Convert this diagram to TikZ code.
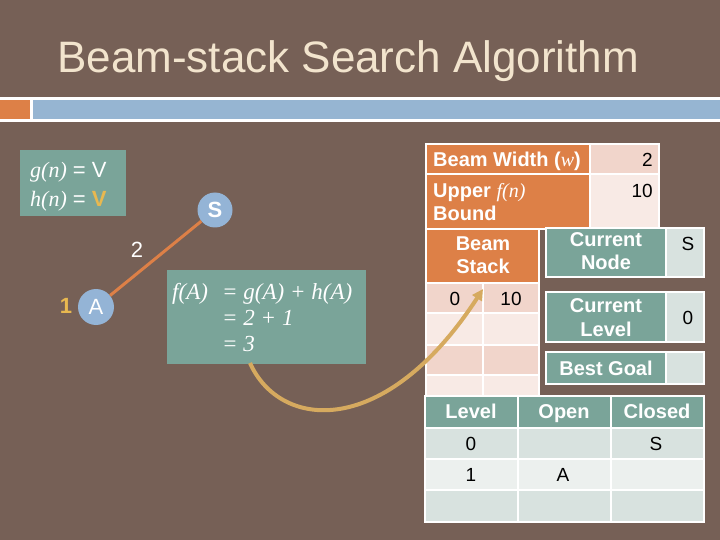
\documentclass[tikz,border=0pt]{standalone}
\usepackage{fontspec}
\setmainfont{Liberation Sans}
\newfontfamily\serifit{Liberation Serif}
\usetikzlibrary{arrows.meta}
\definecolor{bg}{RGB}{118,96,86}
\definecolor{titlec}{RGB}{242,228,205}
\definecolor{tealc}{RGB}{122,164,153}
\definecolor{orangec}{RGB}{221,128,71}
\definecolor{barblue}{RGB}{150,181,210}
\definecolor{cblue}{RGB}{148,180,214}
\definecolor{goldc}{RGB}{232,184,80}
\definecolor{tanc}{RGB}{214,170,95}
\definecolor{pinkc}{RGB}{241,213,203}
\definecolor{lpinkc}{RGB}{248,234,229}
\definecolor{greyc}{RGB}{216,226,223}
\definecolor{lgreyc}{RGB}{236,240,238}
\newcommand{\twoc}[2]{\vtop{\halign{\hfil##\hfil\cr#1\cr#2\cr}}}
\newcommand{\twol}[2]{\vtop{\halign{##\hfil\cr#1\cr#2\cr}}}
\begin{document}
\begin{tikzpicture}[x=1pt,y=-1pt,
  cell/.style={draw=white,line width=2pt},
  lbl/.style={inner sep=0pt,text=white,font=\fontsize{20}{24}\selectfont\bfseries},
  val/.style={inner sep=0pt,text=black,font=\fontsize{19}{24}\selectfont},
  graphtxt/.style={inner sep=0pt,text=white,font=\fontsize{22}{26}\selectfont},
  mathtxt/.style={inner sep=0pt,text=white,font=\fontsize{23}{26}\selectfont\serifit\itshape},
  gnode/.style={circle,fill=cblue,inner sep=0pt,text=white,font=\fontsize{22}{26}\selectfont},
  edgec/.style={draw=orangec,line width=3pt},
  curvearrow/.style={draw=tanc,line width=4pt,-{Triangle[length=11pt,width=11pt]}}]
\useasboundingbox (0,0) rectangle (720,540);
\fill[bg] (0,0) rectangle (720,540);
% title
\node[anchor=base west,inner sep=0pt,text=titlec,font=\fontsize{44}{50}\selectfont] (title) at (57,73) {Beam-stack Search Algorithm};
\fill[white] (0,97) rectangle (720,122);
\fill[orangec] (0,100) rectangle (30,119);
\fill[barblue] (33,100) rectangle (720,119);
% left box
\fill[tealc] (20,150) rectangle (126,216);
\node[graphtxt,anchor=base west] (gn) at (30,178) {{\serifit\itshape g(n)} = V};
\node[graphtxt,anchor=base west] (hn) at (30,207) {{\serifit\itshape h(n)} = {\bfseries\color{goldc}V}};
% graph
\node[gnode,minimum size=35pt,font=\fontsize{22}{26}\selectfont\bfseries] (S) at (215,210) {S};
\node[gnode,minimum size=36pt] (A) at (96,307) {A};
\draw[edgec] (S) -- (A);
\node[graphtxt,text=goldc,font=\fontsize{22}{26}\selectfont\bfseries,anchor=base] (one) at (66,313) {1};
\node[graphtxt,anchor=base] (two) at (137,258) {2};
% f(A) box
\fill[tealc] (167,270) rectangle (366,364);
\node[mathtxt,anchor=base west] (fa1) at (172,299) {f(A)};
\node[mathtxt,anchor=base west] (fa2) at (222,299) {= g(A) + h(A)};
\node[mathtxt,anchor=base west] (fa3) at (222,325) {= 2 + 1};
\node[mathtxt,anchor=base west] (fa4) at (222,351) {= 3};
% upper table
\filldraw[cell,fill=orangec] (426,144) rectangle (590,174);
\filldraw[cell,fill=pinkc] (590,144) rectangle (659,174);
\filldraw[cell,fill=orangec] (426,174) rectangle (590,229);
\filldraw[cell,fill=lpinkc] (590,174) rectangle (659,229);
\node[lbl,anchor=base west] (bw) at (433,167) {Beam Width ({\serifit\itshape\mdseries w})};
\node[val,anchor=base east] (bwv) at (653,167) {2};
\node[lbl,anchor=base west] (ub) at (433,197) {\twol{Upper {\serifit\itshape\mdseries f(n)}}{Bound}};
\node[val,anchor=base east] (ubv) at (653,197) {10};
% beam stack
\filldraw[cell,fill=orangec] (426,229) rectangle (539,283);
\node[lbl,anchor=base] (bs) at (483,250) {\twoc{Beam}{Stack}};
\filldraw[cell,fill=pinkc] (426,283) rectangle (483,313);
\filldraw[cell,fill=pinkc] (483,283) rectangle (539,313);
\filldraw[cell,fill=lpinkc] (426,313) rectangle (483,345);
\filldraw[cell,fill=lpinkc] (483,313) rectangle (539,345);
\filldraw[cell,fill=pinkc] (426,345) rectangle (483,375);
\filldraw[cell,fill=pinkc] (483,345) rectangle (539,375);
\filldraw[cell,fill=lpinkc] (426,375) rectangle (483,397);
\filldraw[cell,fill=lpinkc] (483,375) rectangle (539,397);
\node[val,anchor=base] (bs0) at (455,305) {0};
\node[val,anchor=base] (bs10) at (511,305) {10};
% current node / level / best goal
\filldraw[cell,fill=tealc] (546,228) rectangle (666,277);
\filldraw[cell,fill=greyc] (666,228) rectangle (704,277);
\node[lbl,anchor=base] (cn) at (606,246) {\twoc{Current}{Node}};
\node[val,anchor=base] (cnv) at (688,250) {S};
\filldraw[cell,fill=tealc] (546,292) rectangle (666,342);
\filldraw[cell,fill=greyc] (666,292) rectangle (704,342);
\node[lbl,anchor=base] (cl) at (606,312) {\twoc{Current}{Level}};
\node[val,anchor=base] (clv) at (688,324) {0};
\filldraw[cell,fill=tealc] (546,352) rectangle (666,384);
\filldraw[cell,fill=greyc] (666,352) rectangle (704,384);
\node[lbl,anchor=base] (bg) at (606,375) {Best Goal};
% level table
\filldraw[cell,fill=tealc] (425,396) rectangle (518,428);
\filldraw[cell,fill=tealc] (518,396) rectangle (611,428);
\filldraw[cell,fill=tealc] (611,396) rectangle (704,428);
\foreach \ya/\yb/\c in {428/459/greyc,459/490/lgreyc,490/522/greyc}{
  \filldraw[cell,fill=\c] (425,\ya) rectangle (518,\yb);
  \filldraw[cell,fill=\c] (518,\ya) rectangle (611,\yb);
  \filldraw[cell,fill=\c] (611,\ya) rectangle (704,\yb);
}
\node[lbl,anchor=base] (lvh) at (471,418) {Level};
\node[lbl,anchor=base] (oph) at (564,418) {Open};
\node[lbl,anchor=base] (clh) at (657,418) {Closed};
\node[val,anchor=base] (r0l) at (471,450) {0};
\node[val,anchor=base] (r0c) at (656,450) {S};
\node[val,anchor=base] (r1l) at (471,481) {1};
\node[val,anchor=base] (r1o) at (563,481) {A};
% curve arrow
\coordinate (cstart) at (250,363);
\coordinate (cend) at (483,289);
\draw[curvearrow] (cstart) .. controls (280,430) and (385,440) .. (cend);
\end{tikzpicture}
\end{document}
